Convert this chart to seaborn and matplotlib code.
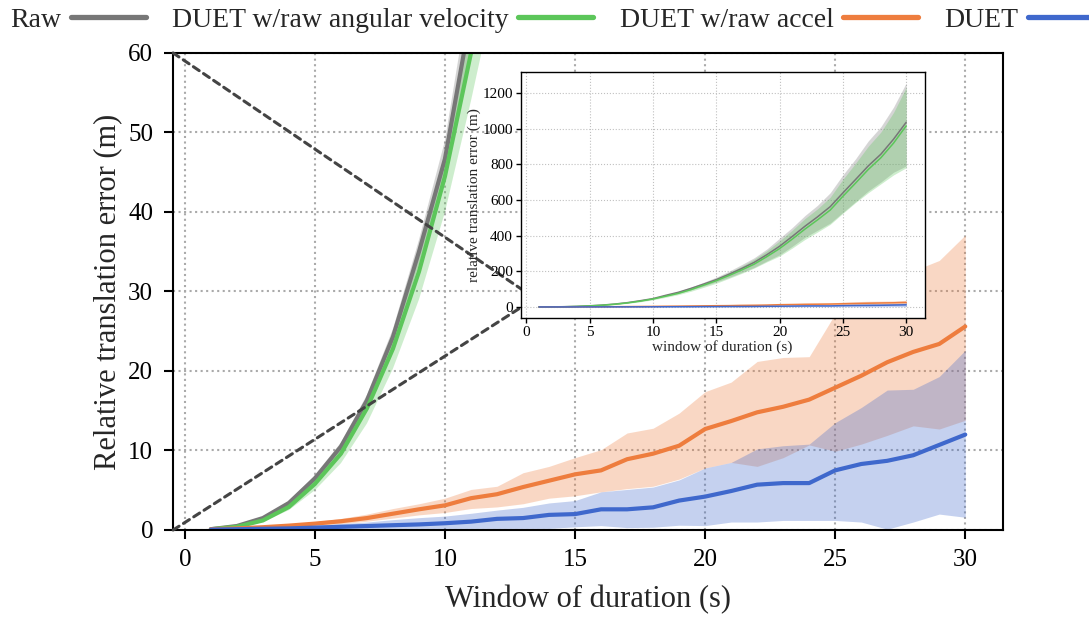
import matplotlib
matplotlib.use('Agg')
import matplotlib.pyplot as plt
from matplotlib.patches import ConnectionPatch
import numpy as np
import pandas as pd
import seaborn as sns

# window durations (s)
durations = list(range(1, 31))

# Raw IMU integration
raw_mean = [0.1, 0.5, 1.5, 3.4, 6.5, 10.5, 16.3, 24.3, 35.0, 46.7, 65, 82, 104, 128, 153,
            183, 215, 250, 293, 340, 395, 452, 505, 562, 639, 714, 790, 856, 940, 1035]
raw_lo = [0.1, 0.45, 1.4, 3.2, 6.1, 10.0, 15.6, 23.3, 33.4, 44.5, 61, 76, 96, 117, 140,
          165, 193, 222, 258, 292, 340, 390, 430, 470, 530, 590, 650, 700, 755, 790]
raw_hi = [0.1, 0.55, 1.6, 3.6, 6.9, 11.0, 17.0, 25.3, 36.5, 49, 69, 87, 111, 138, 167,
          200, 237, 276, 325, 385, 445, 512, 570, 640, 740, 830, 930, 1010, 1120, 1255]

# DUET w/raw angular velocity
gyro_mean = [0.1, 0.4, 1.2, 2.9, 5.8, 9.6, 15.3, 22.8, 32.5, 44.5, 60, 76, 97, 122, 147,
             176, 207, 240, 282, 327, 380, 436, 488, 543, 620, 694, 770, 836, 918, 1015]
gyro_lo = [0.1, 0.35, 1.0, 2.5, 5.0, 8.4, 13.4, 20.3, 29, 40, 54, 69, 88, 110, 133,
           160, 188, 218, 253, 285, 330, 378, 420, 463, 525, 585, 640, 690, 740, 780]
gyro_hi = [0.1, 0.45, 1.4, 3.3, 6.5, 10.7, 16.8, 24.8, 35.2, 47.5, 64, 82, 105, 132, 160,
           193, 228, 268, 315, 370, 430, 495, 550, 615, 715, 805, 900, 980, 1090, 1230]

# DUET w/raw accel
acc_mean = [0.1, 0.2, 0.35, 0.55, 0.8, 1.1, 1.5, 2.05, 2.6, 3.1, 4.0, 4.5, 5.4, 6.2, 7.0,
            7.5, 8.9, 9.6, 10.6, 12.7, 13.7, 14.8, 15.5, 16.4, 17.9, 19.4, 21.1, 22.4, 23.4, 25.6]
acc_lo = [0.08, 0.15, 0.25, 0.4, 0.6, 0.8, 1.1, 1.5, 1.9, 2.2, 2.7, 2.9, 3.3, 4.0, 4.3,
          4.8, 5.2, 5.5, 6.4, 7.8, 8.5, 8.0, 9.1, 10.7, 9.9, 10.8, 11.9, 13.1, 12.7, 13.8]
acc_hi = [0.12, 0.25, 0.45, 0.7, 1.05, 1.45, 2.0, 2.7, 3.3, 4.0, 5.1, 5.5, 7.2, 8.0, 9.1,
          10.1, 12.2, 12.8, 14.7, 17.4, 18.6, 21.2, 21.7, 21.8, 27.2, 29.7, 31.8, 32.6, 33.9, 37.1]

# DUET
duet_mean = [0.05, 0.1, 0.15, 0.2, 0.3, 0.4, 0.5, 0.6, 0.7, 0.85, 1.05, 1.4, 1.5, 1.9, 2.0,
             2.6, 2.6, 2.85, 3.7, 4.2, 4.9, 5.7, 5.9, 5.9, 7.5, 8.3, 8.7, 9.4, 10.7, 12.0]
duet_lo = [0.0, 0.0, 0.02, 0.05, 0.1, 0.1, 0.15, 0.2, 0.2, 0.2, 0.2, 0.2, 0.2, 0.2, 0.4,
           0.55, 0.3, 0.35, 0.6, 0.55, 1.0, 1.0, 1.2, 1.2, 1.2, 1.0, 0.1, 1.0, 2.0, 1.6]
duet_hi = [0.1, 0.2, 0.3, 0.45, 0.6, 0.8, 1.0, 1.3, 1.55, 1.75, 2.1, 2.5, 2.85, 3.4, 3.7,
           4.8, 5.1, 5.4, 6.3, 7.8, 8.5, 10.2, 10.6, 10.8, 13.5, 15.4, 17.6, 17.7, 19.3, 22.6]

labels = ['Raw', 'DUET w/raw angular velocity', 'DUET w/raw accel', 'DUET']
colors = ['#777777', '#5cc65a', '#ee7d3e', '#3f68cc']

series = [
    (raw_mean, raw_lo, raw_hi),
    (gyro_mean, gyro_lo, gyro_hi),
    (acc_mean, acc_lo, acc_hi),
    (duet_mean, duet_lo, duet_hi),
]

sns.set_theme(style='ticks')
plt.rcParams['font.family'] = ['Liberation Serif', 'DejaVu Serif']
plt.rcParams['axes.edgecolor'] = 'black'

fig = plt.figure(figsize=(10.89, 6.19), dpi=100)
ax = fig.add_axes([0.159, 0.1438, 0.762, 0.7706])
axins = fig.add_axes([0.478, 0.486, 0.371, 0.398])


def draw_series(target, lw):
    for (mean, lo, hi), lab, col in zip(series, labels, colors):
        target.fill_between(durations, lo, hi, color=col, alpha=0.3, lw=0)
        sns.lineplot(x=durations, y=mean, ax=target, color=col, lw=lw, label=lab)
    target.get_legend().remove()


# main axes
draw_series(ax, 3.0)
ax.set_ylim(0, 60)
ax.set_xticks(range(0, 31, 5))
ax.set_yticks(range(0, 61, 10))
ax.grid(True, linestyle=':', color='#aaaaaa', lw=1.5)
ax.set_axisbelow(True)
ax.tick_params(labelsize=18, length=6.5, width=1.5, direction='out', colors='black')
ax.tick_params(axis='x', pad=7)
ax.tick_params(axis='y', pad=8)
for sp in ax.spines.values():
    sp.set_linewidth(1.5)
    sp.set_color('black')
ax.set_xlabel('Window of duration (s)', fontsize=22, labelpad=10)
ax.set_ylabel('Relative translation error (m)', fontsize=22, labelpad=4)

# inset axes with the full range
draw_series(axins, 1.1)
axins.set_xticks(range(0, 31, 5))
axins.set_yticks(range(0, 1201, 200))
axins.grid(True, linestyle=':', color='#c0c0c0', lw=0.8)
axins.set_axisbelow(True)
axins.tick_params(labelsize=11, length=3.5, width=1, direction='out', colors='black', pad=2)
for sp in axins.spines.values():
    sp.set_linewidth(1.0)
    sp.set_color('black')
axins.set_xlabel('window of duration (s)', fontsize=11, labelpad=1)
axins.set_ylabel('relative translation error (m)', fontsize=11, labelpad=1)

# dashed zoom connectors from main axes corners towards the inset
for corner in [(0, 1), (0, 0)]:
    con = ConnectionPatch(xyA=corner, coordsA=ax.transAxes,
                          xyB=(0.7, 48), coordsB=axins.transData,
                          linestyle=(0, (2.3, 1.7)), color='#444444', lw=2.2, zorder=10)
    ax.add_artist(con)

# legend across the top
handles, labs = ax.get_legend_handles_labels()
leg = fig.legend(handles, labs, loc='center left', bbox_to_anchor=(0.009, 0.968),
                 ncol=4, frameon=False, fontsize=20, markerfirst=False,
                 handlelength=2.7, handletextpad=0.35, columnspacing=0.95,
                 borderaxespad=0, borderpad=0)
for line in leg.get_lines():
    line.set_linewidth(3.8)

fig.savefig('out.png', dpi=100)
